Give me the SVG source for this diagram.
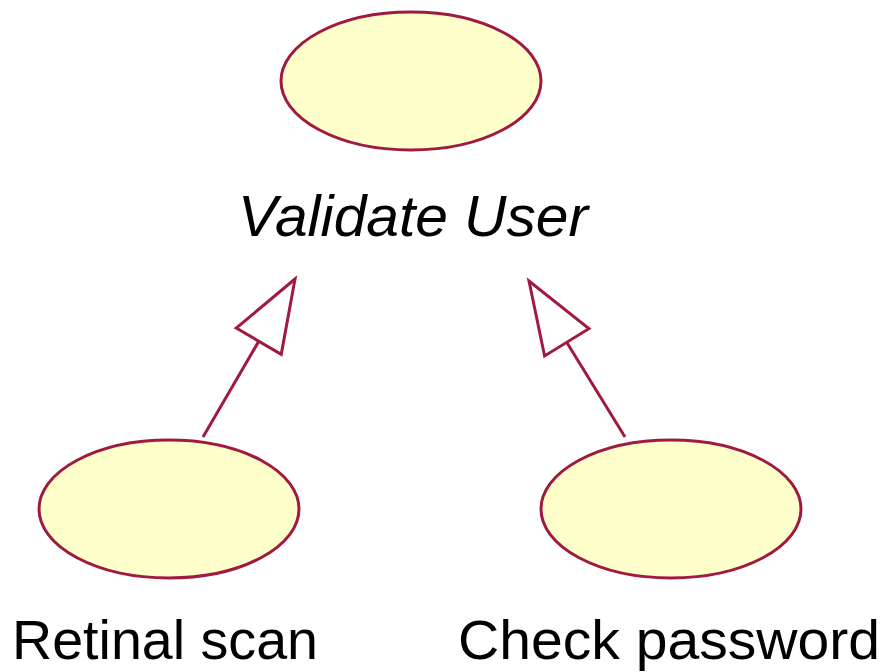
<svg xmlns="http://www.w3.org/2000/svg" width="896" height="672" viewBox="0 0 896 672">
  <style>
    .usecase { fill: #ffffcc; stroke: #a0193f; stroke-width: 3; }
    .label { font-family: "Liberation Sans", Arial, sans-serif; font-size: 58px; fill: #000; text-anchor: middle; }
    .small { font-size: 56px; }
    .abstract { font-style: italic; }
    .gen { stroke: #a0193f; stroke-width: 3; fill: none; marker-end: url(#hollow); }
  </style>
  <defs>
    <!-- hollow triangle for generalization -->
    <marker id="hollow" markerUnits="userSpaceOnUse" markerWidth="84" markerHeight="64" viewBox="-4 -32 84 64" refX="72" refY="0" orient="auto">
      <path d="M72,0 L0,-26 L0,26 Z" fill="#fff" stroke="#a0193f" stroke-width="3" stroke-linejoin="miter"/>
    </marker>
  </defs>
  <rect width="896" height="672" fill="#fff"/>

  <g id="connectors">
    <line class="gen" x1="203" y1="437" x2="295" y2="279"/>
    <line class="gen" x1="625" y1="437" x2="529" y2="281"/>
  </g>

  <g id="validate-user">
    <ellipse class="usecase" cx="411" cy="81" rx="130" ry="69"/>
    <text class="label abstract" x="413" y="236" textLength="350" lengthAdjust="spacingAndGlyphs">Validate User</text>
  </g>

  <g id="retinal-scan">
    <ellipse class="usecase" cx="169" cy="509" rx="130" ry="69"/>
    <text class="label small" x="165" y="659" textLength="306" lengthAdjust="spacingAndGlyphs">Retinal scan</text>
  </g>

  <g id="check-password">
    <ellipse class="usecase" cx="671" cy="509" rx="130" ry="69"/>
    <text class="label small" x="669" y="659" textLength="422" lengthAdjust="spacingAndGlyphs">Check password</text>
  </g>
</svg>
